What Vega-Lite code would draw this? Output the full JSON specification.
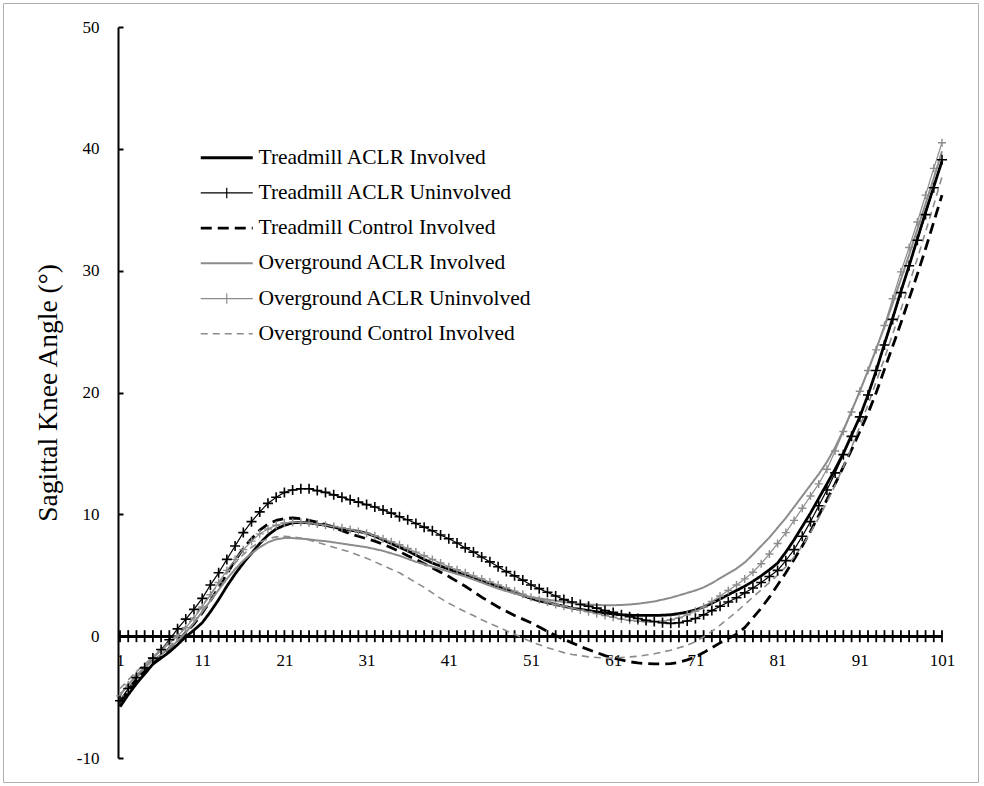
{
"$schema": "https://vega.github.io/schema/vega-lite/v6.json",
"width": 975, "height": 779,
"autosize": "none",
"padding": {"left": 3, "top": 3, "right": 6, "bottom": 4},
"background": "white",
"config": {"view": {"stroke": "#b0b0b0", "strokeWidth": 1}, "font": "Liberation Serif"},
"datasets": {
"series": [
{"s":"A","name":"Treadmill ACLR Involved"},
{"s":"B","name":"Treadmill ACLR Uninvolved"},
{"s":"C","name":"Treadmill Control Involved"},
{"s":"D","name":"Overground ACLR Involved"},
{"s":"E","name":"Overground ACLR Uninvolved"},
{"s":"F","name":"Overground Control Involved"}
],
"curves": [
{"s":"A","x":1,"y":-5.8},{"s":"A","x":2,"y":-4.8},{"s":"A","x":3,"y":-3.9},{"s":"A","x":4,"y":-3.1},{"s":"A","x":5,"y":-2.3},{"s":"A","x":6,"y":-1.8},{"s":"A","x":7,"y":-1.3},{"s":"A","x":8,"y":-0.7},{"s":"A","x":9,"y":-0.05},{"s":"A","x":10,"y":0.5},
{"s":"A","x":11,"y":1.1},{"s":"A","x":12,"y":2.0},{"s":"A","x":13,"y":3.0},{"s":"A","x":14,"y":4.1},{"s":"A","x":15,"y":5.1},{"s":"A","x":16,"y":6.0},{"s":"A","x":17,"y":6.8},{"s":"A","x":18,"y":7.6},{"s":"A","x":19,"y":8.3},{"s":"A","x":20,"y":8.8},
{"s":"A","x":21,"y":9.1},{"s":"A","x":22,"y":9.3},{"s":"A","x":23,"y":9.35},{"s":"A","x":24,"y":9.3},{"s":"A","x":25,"y":9.2},{"s":"A","x":26,"y":9.1},{"s":"A","x":27,"y":8.95},{"s":"A","x":28,"y":8.8},{"s":"A","x":29,"y":8.7},{"s":"A","x":30,"y":8.6},
{"s":"A","x":31,"y":8.45},{"s":"A","x":32,"y":8.2},{"s":"A","x":33,"y":7.9},{"s":"A","x":34,"y":7.6},{"s":"A","x":35,"y":7.3},{"s":"A","x":36,"y":7.0},{"s":"A","x":37,"y":6.65},{"s":"A","x":38,"y":6.3},{"s":"A","x":39,"y":6.0},{"s":"A","x":40,"y":5.75},
{"s":"A","x":41,"y":5.5},{"s":"A","x":42,"y":5.25},{"s":"A","x":43,"y":5.0},{"s":"A","x":44,"y":4.75},{"s":"A","x":45,"y":4.5},{"s":"A","x":46,"y":4.3},{"s":"A","x":47,"y":4.1},{"s":"A","x":48,"y":3.85},{"s":"A","x":49,"y":3.6},{"s":"A","x":50,"y":3.35},
{"s":"A","x":51,"y":3.1},{"s":"A","x":52,"y":2.9},{"s":"A","x":53,"y":2.75},{"s":"A","x":54,"y":2.6},{"s":"A","x":55,"y":2.45},{"s":"A","x":56,"y":2.3},{"s":"A","x":57,"y":2.2},{"s":"A","x":58,"y":2.1},{"s":"A","x":59,"y":2.0},{"s":"A","x":60,"y":1.9},
{"s":"A","x":61,"y":1.82},{"s":"A","x":62,"y":1.76},{"s":"A","x":63,"y":1.72},{"s":"A","x":64,"y":1.7},{"s":"A","x":65,"y":1.7},{"s":"A","x":66,"y":1.7},{"s":"A","x":67,"y":1.72},{"s":"A","x":68,"y":1.76},{"s":"A","x":69,"y":1.85},{"s":"A","x":70,"y":1.98},
{"s":"A","x":71,"y":2.15},{"s":"A","x":72,"y":2.4},{"s":"A","x":73,"y":2.7},{"s":"A","x":74,"y":3.05},{"s":"A","x":75,"y":3.4},{"s":"A","x":76,"y":3.75},{"s":"A","x":77,"y":4.1},{"s":"A","x":78,"y":4.5},{"s":"A","x":79,"y":4.95},{"s":"A","x":80,"y":5.45},
{"s":"A","x":81,"y":6.0},{"s":"A","x":82,"y":6.9},{"s":"A","x":83,"y":7.9},{"s":"A","x":84,"y":9.0},{"s":"A","x":85,"y":10.1},{"s":"A","x":86,"y":11.3},{"s":"A","x":87,"y":12.5},{"s":"A","x":88,"y":13.7},{"s":"A","x":89,"y":15.0},{"s":"A","x":90,"y":16.5},
{"s":"A","x":91,"y":18.0},{"s":"A","x":92,"y":19.8},{"s":"A","x":93,"y":21.8},{"s":"A","x":94,"y":24.0},{"s":"A","x":95,"y":26.1},{"s":"A","x":96,"y":28.3},{"s":"A","x":97,"y":30.4},{"s":"A","x":98,"y":32.6},{"s":"A","x":99,"y":34.8},{"s":"A","x":100,"y":36.9},
{"s":"A","x":101,"y":39.0},
{"s":"B","x":1,"y":-5.3},{"s":"B","x":2,"y":-4.3},{"s":"B","x":3,"y":-3.4},{"s":"B","x":4,"y":-2.6},{"s":"B","x":5,"y":-1.8},{"s":"B","x":6,"y":-1.1},{"s":"B","x":7,"y":-0.3},{"s":"B","x":8,"y":0.6},{"s":"B","x":9,"y":1.4},{"s":"B","x":10,"y":2.2},
{"s":"B","x":11,"y":3.1},{"s":"B","x":12,"y":4.2},{"s":"B","x":13,"y":5.2},{"s":"B","x":14,"y":6.3},{"s":"B","x":15,"y":7.4},{"s":"B","x":16,"y":8.5},{"s":"B","x":17,"y":9.4},{"s":"B","x":18,"y":10.2},{"s":"B","x":19,"y":10.9},{"s":"B","x":20,"y":11.4},
{"s":"B","x":21,"y":11.8},{"s":"B","x":22,"y":12.0},{"s":"B","x":23,"y":12.1},{"s":"B","x":24,"y":12.1},{"s":"B","x":25,"y":11.95},{"s":"B","x":26,"y":11.8},{"s":"B","x":27,"y":11.6},{"s":"B","x":28,"y":11.4},{"s":"B","x":29,"y":11.2},{"s":"B","x":30,"y":11.0},
{"s":"B","x":31,"y":10.8},{"s":"B","x":32,"y":10.6},{"s":"B","x":33,"y":10.35},{"s":"B","x":34,"y":10.1},{"s":"B","x":35,"y":9.8},{"s":"B","x":36,"y":9.55},{"s":"B","x":37,"y":9.25},{"s":"B","x":38,"y":8.95},{"s":"B","x":39,"y":8.65},{"s":"B","x":40,"y":8.3},
{"s":"B","x":41,"y":8.0},{"s":"B","x":42,"y":7.65},{"s":"B","x":43,"y":7.25},{"s":"B","x":44,"y":6.9},{"s":"B","x":45,"y":6.5},{"s":"B","x":46,"y":6.1},{"s":"B","x":47,"y":5.7},{"s":"B","x":48,"y":5.3},{"s":"B","x":49,"y":4.95},{"s":"B","x":50,"y":4.6},
{"s":"B","x":51,"y":4.2},{"s":"B","x":52,"y":3.9},{"s":"B","x":53,"y":3.6},{"s":"B","x":54,"y":3.3},{"s":"B","x":55,"y":3.0},{"s":"B","x":56,"y":2.8},{"s":"B","x":57,"y":2.6},{"s":"B","x":58,"y":2.45},{"s":"B","x":59,"y":2.3},{"s":"B","x":60,"y":2.1},
{"s":"B","x":61,"y":1.95},{"s":"B","x":62,"y":1.75},{"s":"B","x":63,"y":1.6},{"s":"B","x":64,"y":1.45},{"s":"B","x":65,"y":1.3},{"s":"B","x":66,"y":1.2},{"s":"B","x":67,"y":1.1},{"s":"B","x":68,"y":1.05},{"s":"B","x":69,"y":1.1},{"s":"B","x":70,"y":1.25},
{"s":"B","x":71,"y":1.45},{"s":"B","x":72,"y":1.75},{"s":"B","x":73,"y":2.1},{"s":"B","x":74,"y":2.45},{"s":"B","x":75,"y":2.8},{"s":"B","x":76,"y":3.15},{"s":"B","x":77,"y":3.55},{"s":"B","x":78,"y":3.95},{"s":"B","x":79,"y":4.4},{"s":"B","x":80,"y":4.9},
{"s":"B","x":81,"y":5.4},{"s":"B","x":82,"y":6.2},{"s":"B","x":83,"y":7.1},{"s":"B","x":84,"y":8.2},{"s":"B","x":85,"y":9.4},{"s":"B","x":86,"y":10.7},{"s":"B","x":87,"y":12.0},{"s":"B","x":88,"y":13.4},{"s":"B","x":89,"y":14.9},{"s":"B","x":90,"y":16.4},
{"s":"B","x":91,"y":18.0},{"s":"B","x":92,"y":19.8},{"s":"B","x":93,"y":21.8},{"s":"B","x":94,"y":23.9},{"s":"B","x":95,"y":26.0},{"s":"B","x":96,"y":28.2},{"s":"B","x":97,"y":30.4},{"s":"B","x":98,"y":32.5},{"s":"B","x":99,"y":34.6},{"s":"B","x":100,"y":36.8},
{"s":"B","x":101,"y":39.1},
{"s":"C","x":1,"y":-5.4},{"s":"C","x":2,"y":-4.5},{"s":"C","x":3,"y":-3.6},{"s":"C","x":4,"y":-2.9},{"s":"C","x":5,"y":-2.2},{"s":"C","x":6,"y":-1.6},{"s":"C","x":7,"y":-1.0},{"s":"C","x":8,"y":-0.4},{"s":"C","x":9,"y":0.3},{"s":"C","x":10,"y":1.0},
{"s":"C","x":11,"y":1.9},{"s":"C","x":12,"y":2.9},{"s":"C","x":13,"y":4.0},{"s":"C","x":14,"y":5.1},{"s":"C","x":15,"y":6.2},{"s":"C","x":16,"y":7.2},{"s":"C","x":17,"y":8.0},{"s":"C","x":18,"y":8.7},{"s":"C","x":19,"y":9.2},{"s":"C","x":20,"y":9.5},
{"s":"C","x":21,"y":9.65},{"s":"C","x":22,"y":9.7},{"s":"C","x":23,"y":9.65},{"s":"C","x":24,"y":9.5},{"s":"C","x":25,"y":9.35},{"s":"C","x":26,"y":9.15},{"s":"C","x":27,"y":8.95},{"s":"C","x":28,"y":8.65},{"s":"C","x":29,"y":8.4},{"s":"C","x":30,"y":8.2},
{"s":"C","x":31,"y":8.0},{"s":"C","x":32,"y":7.8},{"s":"C","x":33,"y":7.55},{"s":"C","x":34,"y":7.25},{"s":"C","x":35,"y":6.95},{"s":"C","x":36,"y":6.6},{"s":"C","x":37,"y":6.3},{"s":"C","x":38,"y":5.95},{"s":"C","x":39,"y":5.6},{"s":"C","x":40,"y":5.25},
{"s":"C","x":41,"y":4.9},{"s":"C","x":42,"y":4.5},{"s":"C","x":43,"y":4.1},{"s":"C","x":44,"y":3.65},{"s":"C","x":45,"y":3.2},{"s":"C","x":46,"y":2.8},{"s":"C","x":47,"y":2.4},{"s":"C","x":48,"y":2.05},{"s":"C","x":49,"y":1.7},{"s":"C","x":50,"y":1.4},
{"s":"C","x":51,"y":1.1},{"s":"C","x":52,"y":0.75},{"s":"C","x":53,"y":0.4},{"s":"C","x":54,"y":0.05},{"s":"C","x":55,"y":-0.25},{"s":"C","x":56,"y":-0.55},{"s":"C","x":57,"y":-0.85},{"s":"C","x":58,"y":-1.1},{"s":"C","x":59,"y":-1.35},{"s":"C","x":60,"y":-1.6},
{"s":"C","x":61,"y":-1.8},{"s":"C","x":62,"y":-1.95},{"s":"C","x":63,"y":-2.1},{"s":"C","x":64,"y":-2.2},{"s":"C","x":65,"y":-2.25},{"s":"C","x":66,"y":-2.28},{"s":"C","x":67,"y":-2.28},{"s":"C","x":68,"y":-2.25},{"s":"C","x":69,"y":-2.15},{"s":"C","x":70,"y":-1.95},
{"s":"C","x":71,"y":-1.7},{"s":"C","x":72,"y":-1.35},{"s":"C","x":73,"y":-0.95},{"s":"C","x":74,"y":-0.55},{"s":"C","x":75,"y":-0.2},{"s":"C","x":76,"y":0.15},{"s":"C","x":77,"y":0.7},{"s":"C","x":78,"y":1.5},{"s":"C","x":79,"y":2.3},{"s":"C","x":80,"y":3.2},
{"s":"C","x":81,"y":4.2},{"s":"C","x":82,"y":5.2},{"s":"C","x":83,"y":6.3},{"s":"C","x":84,"y":7.4},{"s":"C","x":85,"y":8.6},{"s":"C","x":86,"y":9.9},{"s":"C","x":87,"y":11.2},{"s":"C","x":88,"y":12.5},{"s":"C","x":89,"y":13.9},{"s":"C","x":90,"y":15.3},
{"s":"C","x":91,"y":16.8},{"s":"C","x":92,"y":18.3},{"s":"C","x":93,"y":20.0},{"s":"C","x":94,"y":21.9},{"s":"C","x":95,"y":23.8},{"s":"C","x":96,"y":25.7},{"s":"C","x":97,"y":27.7},{"s":"C","x":98,"y":29.7},{"s":"C","x":99,"y":31.8},{"s":"C","x":100,"y":34.0},
{"s":"C","x":101,"y":36.2},
{"s":"D","x":1,"y":-4.8},{"s":"D","x":2,"y":-4.0},{"s":"D","x":3,"y":-3.2},{"s":"D","x":4,"y":-2.6},{"s":"D","x":5,"y":-2.0},{"s":"D","x":6,"y":-1.5},{"s":"D","x":7,"y":-1.0},{"s":"D","x":8,"y":-0.4},{"s":"D","x":9,"y":0.3},{"s":"D","x":10,"y":1.1},
{"s":"D","x":11,"y":2.0},{"s":"D","x":12,"y":2.9},{"s":"D","x":13,"y":3.8},{"s":"D","x":14,"y":4.7},{"s":"D","x":15,"y":5.5},{"s":"D","x":16,"y":6.2},{"s":"D","x":17,"y":6.8},{"s":"D","x":18,"y":7.3},{"s":"D","x":19,"y":7.7},{"s":"D","x":20,"y":7.95},
{"s":"D","x":21,"y":8.05},{"s":"D","x":22,"y":8.05},{"s":"D","x":23,"y":8.0},{"s":"D","x":24,"y":7.95},{"s":"D","x":25,"y":7.85},{"s":"D","x":26,"y":7.8},{"s":"D","x":27,"y":7.7},{"s":"D","x":28,"y":7.6},{"s":"D","x":29,"y":7.5},{"s":"D","x":30,"y":7.4},
{"s":"D","x":31,"y":7.3},{"s":"D","x":32,"y":7.15},{"s":"D","x":33,"y":7.0},{"s":"D","x":34,"y":6.8},{"s":"D","x":35,"y":6.6},{"s":"D","x":36,"y":6.35},{"s":"D","x":37,"y":6.1},{"s":"D","x":38,"y":5.9},{"s":"D","x":39,"y":5.7},{"s":"D","x":40,"y":5.5},
{"s":"D","x":41,"y":5.3},{"s":"D","x":42,"y":5.1},{"s":"D","x":43,"y":4.9},{"s":"D","x":44,"y":4.65},{"s":"D","x":45,"y":4.4},{"s":"D","x":46,"y":4.15},{"s":"D","x":47,"y":3.9},{"s":"D","x":48,"y":3.7},{"s":"D","x":49,"y":3.5},{"s":"D","x":50,"y":3.35},
{"s":"D","x":51,"y":3.2},{"s":"D","x":52,"y":3.1},{"s":"D","x":53,"y":3.0},{"s":"D","x":54,"y":2.9},{"s":"D","x":55,"y":2.8},{"s":"D","x":56,"y":2.72},{"s":"D","x":57,"y":2.65},{"s":"D","x":58,"y":2.6},{"s":"D","x":59,"y":2.56},{"s":"D","x":60,"y":2.54},
{"s":"D","x":61,"y":2.54},{"s":"D","x":62,"y":2.56},{"s":"D","x":63,"y":2.6},{"s":"D","x":64,"y":2.66},{"s":"D","x":65,"y":2.75},{"s":"D","x":66,"y":2.85},{"s":"D","x":67,"y":3.0},{"s":"D","x":68,"y":3.15},{"s":"D","x":69,"y":3.35},{"s":"D","x":70,"y":3.55},
{"s":"D","x":71,"y":3.75},{"s":"D","x":72,"y":4.0},{"s":"D","x":73,"y":4.35},{"s":"D","x":74,"y":4.75},{"s":"D","x":75,"y":5.15},{"s":"D","x":76,"y":5.55},{"s":"D","x":77,"y":6.05},{"s":"D","x":78,"y":6.7},{"s":"D","x":79,"y":7.4},{"s":"D","x":80,"y":8.1},
{"s":"D","x":81,"y":8.9},{"s":"D","x":82,"y":9.7},{"s":"D","x":83,"y":10.6},{"s":"D","x":84,"y":11.5},{"s":"D","x":85,"y":12.4},{"s":"D","x":86,"y":13.3},{"s":"D","x":87,"y":14.3},{"s":"D","x":88,"y":15.5},{"s":"D","x":89,"y":16.9},{"s":"D","x":90,"y":18.5},
{"s":"D","x":91,"y":20.1},{"s":"D","x":92,"y":21.8},{"s":"D","x":93,"y":23.6},{"s":"D","x":94,"y":25.4},{"s":"D","x":95,"y":27.3},{"s":"D","x":96,"y":29.3},{"s":"D","x":97,"y":31.3},{"s":"D","x":98,"y":33.4},{"s":"D","x":99,"y":35.5},{"s":"D","x":100,"y":37.6},
{"s":"D","x":101,"y":39.8},
{"s":"E","x":1,"y":-4.9},{"s":"E","x":2,"y":-4.0},{"s":"E","x":3,"y":-3.2},{"s":"E","x":4,"y":-2.5},{"s":"E","x":5,"y":-1.8},{"s":"E","x":6,"y":-1.2},{"s":"E","x":7,"y":-0.6},{"s":"E","x":8,"y":0.0},{"s":"E","x":9,"y":0.7},{"s":"E","x":10,"y":1.5},
{"s":"E","x":11,"y":2.4},{"s":"E","x":12,"y":3.4},{"s":"E","x":13,"y":4.4},{"s":"E","x":14,"y":5.4},{"s":"E","x":15,"y":6.3},{"s":"E","x":16,"y":7.1},{"s":"E","x":17,"y":7.8},{"s":"E","x":18,"y":8.4},{"s":"E","x":19,"y":8.8},{"s":"E","x":20,"y":9.1},
{"s":"E","x":21,"y":9.3},{"s":"E","x":22,"y":9.35},{"s":"E","x":23,"y":9.35},{"s":"E","x":24,"y":9.3},{"s":"E","x":25,"y":9.2},{"s":"E","x":26,"y":9.1},{"s":"E","x":27,"y":9.0},{"s":"E","x":28,"y":8.9},{"s":"E","x":29,"y":8.75},{"s":"E","x":30,"y":8.6},
{"s":"E","x":31,"y":8.45},{"s":"E","x":32,"y":8.25},{"s":"E","x":33,"y":8.0},{"s":"E","x":34,"y":7.75},{"s":"E","x":35,"y":7.5},{"s":"E","x":36,"y":7.2},{"s":"E","x":37,"y":6.9},{"s":"E","x":38,"y":6.6},{"s":"E","x":39,"y":6.3},{"s":"E","x":40,"y":6.0},
{"s":"E","x":41,"y":5.7},{"s":"E","x":42,"y":5.45},{"s":"E","x":43,"y":5.2},{"s":"E","x":44,"y":4.95},{"s":"E","x":45,"y":4.7},{"s":"E","x":46,"y":4.45},{"s":"E","x":47,"y":4.2},{"s":"E","x":48,"y":3.95},{"s":"E","x":49,"y":3.7},{"s":"E","x":50,"y":3.45},
{"s":"E","x":51,"y":3.2},{"s":"E","x":52,"y":3.0},{"s":"E","x":53,"y":2.8},{"s":"E","x":54,"y":2.6},{"s":"E","x":55,"y":2.45},{"s":"E","x":56,"y":2.3},{"s":"E","x":57,"y":2.15},{"s":"E","x":58,"y":2.0},{"s":"E","x":59,"y":1.85},{"s":"E","x":60,"y":1.7},
{"s":"E","x":61,"y":1.55},{"s":"E","x":62,"y":1.4},{"s":"E","x":63,"y":1.3},{"s":"E","x":64,"y":1.22},{"s":"E","x":65,"y":1.18},{"s":"E","x":66,"y":1.18},{"s":"E","x":67,"y":1.22},{"s":"E","x":68,"y":1.35},{"s":"E","x":69,"y":1.5},{"s":"E","x":70,"y":1.75},
{"s":"E","x":71,"y":2.05},{"s":"E","x":72,"y":2.4},{"s":"E","x":73,"y":2.85},{"s":"E","x":74,"y":3.3},{"s":"E","x":75,"y":3.75},{"s":"E","x":76,"y":4.2},{"s":"E","x":77,"y":4.7},{"s":"E","x":78,"y":5.25},{"s":"E","x":79,"y":5.95},{"s":"E","x":80,"y":6.75},
{"s":"E","x":81,"y":7.6},{"s":"E","x":82,"y":8.5},{"s":"E","x":83,"y":9.5},{"s":"E","x":84,"y":10.5},{"s":"E","x":85,"y":11.5},{"s":"E","x":86,"y":12.5},{"s":"E","x":87,"y":13.7},{"s":"E","x":88,"y":15.2},{"s":"E","x":89,"y":16.8},{"s":"E","x":90,"y":18.4},
{"s":"E","x":91,"y":20.1},{"s":"E","x":92,"y":21.8},{"s":"E","x":93,"y":23.5},{"s":"E","x":94,"y":25.5},{"s":"E","x":95,"y":27.7},{"s":"E","x":96,"y":29.9},{"s":"E","x":97,"y":31.9},{"s":"E","x":98,"y":34.0},{"s":"E","x":99,"y":36.2},{"s":"E","x":100,"y":38.4},
{"s":"E","x":101,"y":40.5},
{"s":"F","x":1,"y":-4.3},{"s":"F","x":2,"y":-3.6},{"s":"F","x":3,"y":-2.9},{"s":"F","x":4,"y":-2.3},{"s":"F","x":5,"y":-1.7},{"s":"F","x":6,"y":-1.1},{"s":"F","x":7,"y":-0.5},{"s":"F","x":8,"y":0.1},{"s":"F","x":9,"y":0.8},{"s":"F","x":10,"y":1.6},
{"s":"F","x":11,"y":2.5},{"s":"F","x":12,"y":3.4},{"s":"F","x":13,"y":4.3},{"s":"F","x":14,"y":5.2},{"s":"F","x":15,"y":6.0},{"s":"F","x":16,"y":6.7},{"s":"F","x":17,"y":7.3},{"s":"F","x":18,"y":7.7},{"s":"F","x":19,"y":8.0},{"s":"F","x":20,"y":8.15},
{"s":"F","x":21,"y":8.2},{"s":"F","x":22,"y":8.15},{"s":"F","x":23,"y":8.05},{"s":"F","x":24,"y":7.9},{"s":"F","x":25,"y":7.7},{"s":"F","x":26,"y":7.5},{"s":"F","x":27,"y":7.3},{"s":"F","x":28,"y":7.1},{"s":"F","x":29,"y":6.9},{"s":"F","x":30,"y":6.65},
{"s":"F","x":31,"y":6.4},{"s":"F","x":32,"y":6.1},{"s":"F","x":33,"y":5.8},{"s":"F","x":34,"y":5.5},{"s":"F","x":35,"y":5.2},{"s":"F","x":36,"y":4.8},{"s":"F","x":37,"y":4.4},{"s":"F","x":38,"y":4.0},{"s":"F","x":39,"y":3.55},{"s":"F","x":40,"y":3.1},
{"s":"F","x":41,"y":2.7},{"s":"F","x":42,"y":2.35},{"s":"F","x":43,"y":2.0},{"s":"F","x":44,"y":1.7},{"s":"F","x":45,"y":1.35},{"s":"F","x":46,"y":1.05},{"s":"F","x":47,"y":0.75},{"s":"F","x":48,"y":0.45},{"s":"F","x":49,"y":0.15},{"s":"F","x":50,"y":-0.15},
{"s":"F","x":51,"y":-0.45},{"s":"F","x":52,"y":-0.7},{"s":"F","x":53,"y":-0.95},{"s":"F","x":54,"y":-1.15},{"s":"F","x":55,"y":-1.35},{"s":"F","x":56,"y":-1.5},{"s":"F","x":57,"y":-1.6},{"s":"F","x":58,"y":-1.7},{"s":"F","x":59,"y":-1.75},{"s":"F","x":60,"y":-1.8},
{"s":"F","x":61,"y":-1.8},{"s":"F","x":62,"y":-1.75},{"s":"F","x":63,"y":-1.7},{"s":"F","x":64,"y":-1.65},{"s":"F","x":65,"y":-1.55},{"s":"F","x":66,"y":-1.45},{"s":"F","x":67,"y":-1.3},{"s":"F","x":68,"y":-1.15},{"s":"F","x":69,"y":-0.95},{"s":"F","x":70,"y":-0.75},
{"s":"F","x":71,"y":-0.45},{"s":"F","x":72,"y":-0.05},{"s":"F","x":73,"y":0.4},{"s":"F","x":74,"y":0.9},{"s":"F","x":75,"y":1.45},{"s":"F","x":76,"y":2.0},{"s":"F","x":77,"y":2.6},{"s":"F","x":78,"y":3.2},{"s":"F","x":79,"y":3.8},{"s":"F","x":80,"y":4.4},
{"s":"F","x":81,"y":5.0},{"s":"F","x":82,"y":5.7},{"s":"F","x":83,"y":6.5},{"s":"F","x":84,"y":7.4},{"s":"F","x":85,"y":8.5},{"s":"F","x":86,"y":9.7},{"s":"F","x":87,"y":11.0},{"s":"F","x":88,"y":12.4},{"s":"F","x":89,"y":13.9},{"s":"F","x":90,"y":15.5},
{"s":"F","x":91,"y":17.2},{"s":"F","x":92,"y":19.0},{"s":"F","x":93,"y":20.9},{"s":"F","x":94,"y":22.8},{"s":"F","x":95,"y":24.8},{"s":"F","x":96,"y":26.8},{"s":"F","x":97,"y":28.9},{"s":"F","x":98,"y":31.0},{"s":"F","x":99,"y":33.2},{"s":"F","x":100,"y":35.4},
{"s":"F","x":101,"y":37.7}
]
},
"data": {"name": "curves"},
"transform": [{"lookup": "s", "from": {"data": {"name": "series"}, "key": "s", "fields": ["name"]}}],
"encoding": {
  "x": {"field": "x", "type": "quantitative",
        "scale": {"domain": [1, 101], "range": [117, 939], "nice": false, "zero": false},
        "axis": {"orient": "bottom", "values": [1,11,21,31,41,51,61,71,81,91,101], "domain": false, "ticks": false, "tickSize": 0, "grid": false, "offset": -146, "labelPadding": 16, "labelFont": "Liberation Serif", "labelFontSize": 17, "labelColor": "black", "labelFlush": false, "labelOverlap": false, "title": null}},
  "y": {"field": "y", "type": "quantitative",
        "scale": {"domain": [-10, 50], "range": [755, 24], "nice": false, "zero": false},
        "axis": {"orient": "left", "values": [-10,0,10,20,30,40,50], "grid": false, "offset": -115, "domainColor": "black", "domainWidth": 2, "tickColor": "black", "tickWidth": 2, "tickSize": -5, "labelPadding": 24, "labelFont": "Liberation Serif", "labelFontSize": 17, "labelColor": "black", "labelFlush": false, "labelExpr": "toString(datum.value)", "title": "Sagittal Knee Angle (°)", "titleFont": "Liberation Serif", "titleFontSize": 27.5, "titleFontWeight": "normal", "titleColor": "black", "titleX": -70, "titleBaseline": "middle"}}
},
"layer": [
  {"mark": {"type": "rule", "color": "black", "strokeWidth": 2.2},
   "encoding": {"x": {"datum": 1}, "x2": {"datum": 101}, "y": {"datum": 0}}},
  {"transform": [{"filter": "datum.s === 'A'"}],
   "mark": {"type": "tick", "orient": "vertical", "size": 12, "thickness": 1.8, "color": "black", "opacity": 1},
   "encoding": {"x": {"field": "x", "type": "quantitative"}, "y": {"datum": 0}}},
  {"mark": {"type": "line", "strokeCap": "butt", "strokeJoin": "round"},
   "encoding": {
     "color": {"field": "name", "type": "nominal",
       "scale": {"domain": ["Treadmill ACLR Involved","Treadmill ACLR Uninvolved","Treadmill Control Involved","Overground ACLR Involved","Overground ACLR Uninvolved","Overground Control Involved"],
                 "range": ["#000000","#000000","#000000","#8c8c8c","#8c8c8c","#8c8c8c"]},
       "legend": {"orient": "none", "legendX": 213, "legendY": 144, "title": null, "padding": 0, "symbolType": "M-2,0H2", "symbolSize": 676, "labelFont": "Liberation Serif", "labelFontSize": 21.5, "labelColor": "black", "labelOffset": 21, "rowPadding": 12.2, "labelLimit": 400,
         "encoding": {"symbols": {
           "shape": {"value": {"expr": "(datum.value === 'Treadmill ACLR Uninvolved' || datum.value === 'Overground ACLR Uninvolved') ? 'M-2,0H2M0,-0.4V0.4' : 'M-2,0H2'"}},
           "strokeWidth": {"value": {"expr": "(datum.value === 'Treadmill ACLR Involved' || datum.value === 'Treadmill Control Involved') ? 2.8 : datum.value === 'Overground ACLR Involved' ? 2 : datum.value === 'Overground Control Involved' ? 1.6 : 1.2"}}
         }}}},
     "strokeDash": {"field": "name", "type": "nominal",
       "scale": {"domain": ["Treadmill ACLR Involved","Treadmill ACLR Uninvolved","Treadmill Control Involved","Overground ACLR Involved","Overground ACLR Uninvolved","Overground Control Involved"],
                 "range": [[1,0],[1,0],[11,6],[1,0],[1,0],[7,5]]},
       "legend": {"orient": "none", "legendX": 213, "legendY": 144, "title": null, "padding": 0, "symbolType": "M-2,0H2", "symbolSize": 676, "labelFont": "Liberation Serif", "labelFontSize": 21.5, "labelColor": "black", "labelOffset": 21, "rowPadding": 12.2, "labelLimit": 400,
         "encoding": {"symbols": {
           "shape": {"value": {"expr": "(datum.value === 'Treadmill ACLR Uninvolved' || datum.value === 'Overground ACLR Uninvolved') ? 'M-2,0H2M0,-0.4V0.4' : 'M-2,0H2'"}},
           "strokeWidth": {"value": {"expr": "(datum.value === 'Treadmill ACLR Involved' || datum.value === 'Treadmill Control Involved') ? 2.8 : datum.value === 'Overground ACLR Involved' ? 2 : datum.value === 'Overground Control Involved' ? 1.6 : 1.2"}}
         }}}},
     "strokeWidth": {"condition": [
        {"test": "datum.s === 'A' || datum.s === 'C'", "value": 2.8},
        {"test": "datum.s === 'D'", "value": 2},
        {"test": "datum.s === 'F'", "value": 1.6}], "value": 1.2}
   }},
  {"transform": [{"filter": "datum.s === 'E'"}],
   "mark": {"type": "point", "shape": "M-1,0H1M0,-1V1", "size": 64, "filled": false, "stroke": "#8c8c8c", "strokeWidth": 1.4, "opacity": 1}},
  {"transform": [{"filter": "datum.s === 'B'"}],
   "mark": {"type": "point", "shape": "M-1,0H1M0,-1V1", "size": 100, "filled": false, "stroke": "#000000", "strokeWidth": 1.6, "opacity": 1}}
]
}
